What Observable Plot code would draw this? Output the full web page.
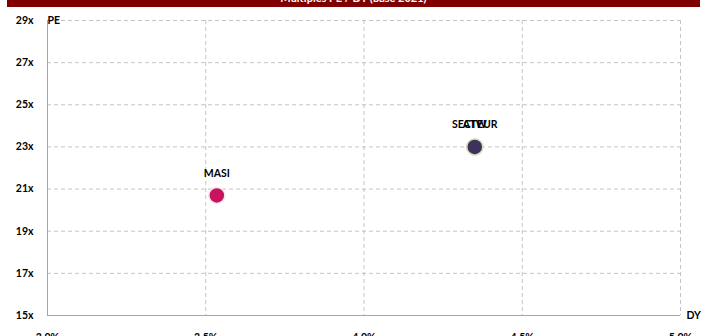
<!DOCTYPE html>
<html><head><meta charset="utf-8">
<script src="https://cdn.jsdelivr.net/npm/d3@7"></script>
<script src="https://cdn.jsdelivr.net/npm/@observablehq/plot@0.6"></script>
<style>
html,body{margin:0;padding:0;width:707px;height:336px;overflow:hidden;background:#fff;font-family:Lato,"Open Sans",sans-serif;}
#title{position:relative;margin:0 7px;height:7px;background:#800000;overflow:hidden;}
#title span{position:absolute;left:0;right:0;top:-8px;text-align:center;color:#fff;font-weight:bold;font-size:11px;line-height:11px;}
</style></head><body>
<div id="title"><span>Multiples PE / DY (base 2021)</span></div>
<div id="chart"></div>
<script>
const names = ["MASI", "SECTEUR", "ATW"];
const dyValues = [3.535, 4.35, 4.35];
const peValues = [20.7, 23.0, 23.0];
const pointColors = ["#c8145f", "#3e315e", "#3e315e"];
const pointStrokes = ["#f4e6ea", "#d9dcb8", "#d9dcb8"];
const xTicks = [3.0, 3.5, 4.0, 4.5, 5.0];
const yTicks = [15, 17, 19, 21, 23, 25, 27, 29];

const data = names.map((n, i) => ({name: n, dy: dyValues[i], pe: peValues[i], fill: pointColors[i], stroke: pointStrokes[i]}));

const chart = Plot.plot({
  width: 707, height: 329,
  marginLeft: 47, marginRight: 27, marginTop: 13, marginBottom: 21,
  x: {domain: [3, 5]},
  y: {domain: [15, 29]},
  color: {type: "identity"},
  style: {fontFamily: "Lato, 'Open Sans', sans-serif", fontSize: "10.5px", fontWeight: "bold", background: "#fff", color: "#000"},
  marks: [
    Plot.ruleY(yTicks.filter(d => d > 15), {y: d => d, stroke: "#c4c4c4", strokeDasharray: "4,3"}),
    Plot.ruleX(xTicks.filter(d => d > 3), {x: d => d, stroke: "#c4c4c4", strokeDasharray: "4,3"}),
    Plot.ruleX([3], {stroke: "#a6a6a6", strokeWidth: 1}),
    Plot.ruleY([15], {stroke: "#a6a6a6", strokeWidth: 1}),
    Plot.axisY({ticks: yTicks, tickSize: 0, tickPadding: 14, tickFormat: d => d + "x", label: null, fill: "#000"}),
    Plot.axisX({ticks: xTicks, tickSize: 0, tickPadding: 18, tickFormat: d => d.toFixed(1) + "%", label: null, fill: "#000"}),
    Plot.dot(data, {x: "dy", y: "pe", r: 8, fill: "fill", stroke: "stroke", strokeWidth: 1.5}),
    Plot.text(data, {x: "dy", y: "pe", text: "name", dy: -22, fill: "#000"}),
    Plot.text(["PE"], {x: 3, y: 29, text: d => d, textAnchor: "start", dx: 0, dy: 0, fill: "#000"}),
    Plot.text(["DY"], {x: 5, y: 15, text: d => d, textAnchor: "start", dx: 6, dy: 0, fill: "#000"})
  ]
});
document.getElementById("chart").appendChild(chart);
</script>
</body></html>
